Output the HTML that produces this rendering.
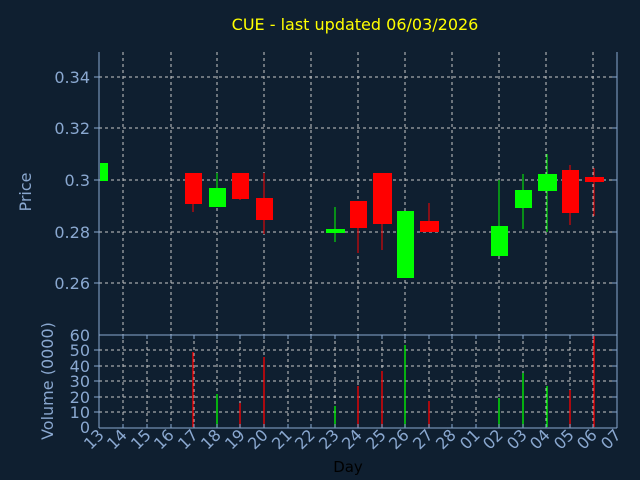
<!DOCTYPE html>
<html><head><style>body{margin:0;background:#0f1f30}svg{display:block}</style></head><body>
<svg width="640" height="480" xmlns="http://www.w3.org/2000/svg" font-family="DejaVu Sans, Liberation Sans, sans-serif">
<rect width="640" height="480" fill="#0f1f30"/>
<text x="355" y="30" fill="#ffff00" font-size="16" text-anchor="middle">CUE - last updated 06/03/2026</text>
<g stroke="#c8c8c8" stroke-width="1" stroke-dasharray="3,3">
<line x1="99" x2="617" y1="77" y2="77"/><line x1="99" x2="617" y1="128" y2="128"/><line x1="99" x2="617" y1="180" y2="180"/><line x1="99" x2="617" y1="232" y2="232"/><line x1="99" x2="617" y1="283" y2="283"/>
<line x1="99" x2="617" y1="350" y2="350"/><line x1="99" x2="617" y1="366" y2="366"/><line x1="99" x2="617" y1="381" y2="381"/><line x1="99" x2="617" y1="397" y2="397"/><line x1="99" x2="617" y1="412" y2="412"/>
<line x1="123" x2="123" y1="52" y2="427"/><line x1="147" x2="147" y1="335" y2="427"/><line x1="171" x2="171" y1="52" y2="427"/><line x1="194" x2="194" y1="335" y2="427"/><line x1="217" x2="217" y1="52" y2="427"/><line x1="240" x2="240" y1="335" y2="427"/><line x1="264" x2="264" y1="52" y2="427"/><line x1="288" x2="288" y1="335" y2="427"/><line x1="311" x2="311" y1="52" y2="427"/><line x1="335" x2="335" y1="335" y2="427"/><line x1="358" x2="358" y1="52" y2="427"/><line x1="382" x2="382" y1="335" y2="427"/><line x1="405" x2="405" y1="52" y2="427"/><line x1="429" x2="429" y1="335" y2="427"/><line x1="452" x2="452" y1="52" y2="427"/><line x1="476" x2="476" y1="335" y2="427"/><line x1="499" x2="499" y1="52" y2="427"/><line x1="523" x2="523" y1="335" y2="427"/><line x1="546" x2="546" y1="52" y2="427"/><line x1="570" x2="570" y1="335" y2="427"/><line x1="593" x2="593" y1="52" y2="427"/>
</g>
<g stroke-width="1">
<rect x="100" y="163" width="8" height="18" fill="#00ff00"/>
<line x1="193" x2="193" y1="173" y2="212" stroke="#ff0000"/><rect x="185" y="173" width="17" height="31" fill="#ff0000"/>
<line x1="217" x2="217" y1="173" y2="207" stroke="#00ff00"/><rect x="209" y="188" width="17" height="19" fill="#00ff00"/>
<line x1="240" x2="240" y1="173" y2="200" stroke="#ff0000"/><rect x="232" y="173" width="17" height="26" fill="#ff0000"/>
<line x1="264" x2="264" y1="173" y2="234" stroke="#ff0000"/><rect x="256" y="198" width="17" height="22" fill="#ff0000"/>
<line x1="335" x2="335" y1="207" y2="242" stroke="#00ff00"/><rect x="326" y="229" width="19" height="4" fill="#00ff00"/>
<line x1="358" x2="358" y1="201" y2="253" stroke="#ff0000"/><rect x="350" y="201" width="17" height="27" fill="#ff0000"/>
<line x1="382" x2="382" y1="173" y2="250" stroke="#ff0000"/><rect x="373" y="173" width="19" height="51" fill="#ff0000"/>
<rect x="397" y="211" width="17" height="67" fill="#00ff00"/>
<line x1="429" x2="429" y1="203" y2="232" stroke="#ff0000"/><rect x="420" y="221" width="19" height="11" fill="#ff0000"/>
<line x1="499" x2="499" y1="180" y2="256" stroke="#00ff00"/><rect x="491" y="226" width="17" height="30" fill="#00ff00"/>
<line x1="523" x2="523" y1="174" y2="229" stroke="#00ff00"/><rect x="515" y="190" width="17" height="18" fill="#00ff00"/>
<line x1="547" x2="547" y1="154" y2="232" stroke="#00ff00"/><rect x="538" y="174" width="19" height="17" fill="#00ff00"/>
<line x1="570" x2="570" y1="165" y2="225" stroke="#ff0000"/><rect x="562" y="170" width="17" height="43" fill="#ff0000"/>
<line x1="594" x2="594" y1="168" y2="216" stroke="#ff0000"/><rect x="585" y="177" width="19" height="5" fill="#ff0000"/>
</g>
<g stroke-width="1.3">
<line x1="193" x2="193" y1="352" y2="427" stroke="#ff0000"/>
<line x1="217" x2="217" y1="394" y2="427" stroke="#00ff00"/>
<line x1="240" x2="240" y1="403" y2="427" stroke="#ff0000"/>
<line x1="264" x2="264" y1="357" y2="427" stroke="#ff0000"/>
<line x1="335" x2="335" y1="406" y2="427" stroke="#00ff00"/>
<line x1="358" x2="358" y1="386" y2="427" stroke="#ff0000"/>
<line x1="382" x2="382" y1="371" y2="427" stroke="#ff0000"/>
<line x1="405" x2="405" y1="345" y2="427" stroke="#00ff00"/>
<line x1="429" x2="429" y1="401" y2="427" stroke="#ff0000"/>
<line x1="499" x2="499" y1="398" y2="427" stroke="#00ff00"/>
<line x1="523" x2="523" y1="373" y2="427" stroke="#00ff00"/>
<line x1="547" x2="547" y1="386" y2="427" stroke="#00ff00"/>
<line x1="570" x2="570" y1="390" y2="427" stroke="#ff0000"/>
<line x1="594" x2="594" y1="336" y2="427" stroke="#ff0000"/>
</g>
<g stroke="#8aa8d0" fill="none" stroke-width="1">
<line x1="99" y1="52" x2="99" y2="428"/><line x1="617" y1="52" x2="617" y2="428"/>
<line x1="99" y1="335" x2="617" y2="335"/><line x1="99" y1="428" x2="617" y2="428"/>
<path d="M94 77h5M94 128h5M94 180h5M94 232h5M94 283h5M612 77h5M612 128h5M612 180h5M612 232h5M612 283h5"/>
<path d="M94 350h5M94 366h5M94 381h5M94 397h5M94 412h5M612 350h5M612 366h5M612 381h5M612 397h5M612 412h5"/>
<path d="M123 428v-4M147 428v-4M171 428v-4M194 428v-4M217 428v-4M240 428v-4M264 428v-4M288 428v-4M311 428v-4M335 428v-4M358 428v-4M382 428v-4M405 428v-4M429 428v-4M452 428v-4M476 428v-4M499 428v-4M523 428v-4M546 428v-4M570 428v-4M593 428v-4M123 335v4M147 335v4M171 335v4M194 335v4M217 335v4M240 335v4M264 335v4M288 335v4M311 335v4M335 335v4M358 335v4M382 335v4M405 335v4M429 335v4M452 335v4M476 335v4M499 335v4M523 335v4M546 335v4M570 335v4M593 335v4"/>
</g>
<g fill="#8aa8d0" font-size="16" text-anchor="end">
<text x="90" y="83">0.34</text><text x="90" y="134">0.32</text><text x="90" y="186">0.3</text><text x="90" y="238">0.28</text><text x="90" y="289">0.26</text>
<text x="90" y="341">60</text><text x="90" y="356">50</text><text x="90" y="372">40</text><text x="90" y="387">30</text><text x="90" y="403">20</text><text x="90" y="418">10</text><text x="90" y="433">0</text>
</g>
<text transform="translate(31,192) rotate(-90)" fill="#8aa8d0" font-size="16" text-anchor="middle">Price</text>
<text transform="translate(53,381) rotate(-90)" fill="#8aa8d0" font-size="16" text-anchor="middle">Volume (0000)</text>
<text x="348" y="472" fill="#000" font-size="15" text-anchor="middle">Day</text>
<g fill="#8aa8d0" font-size="16" text-anchor="end">
<text transform="translate(105,436) rotate(-45)">13</text>
<text transform="translate(128,436) rotate(-45)">14</text>
<text transform="translate(152,436) rotate(-45)">15</text>
<text transform="translate(175,436) rotate(-45)">16</text>
<text transform="translate(199,436) rotate(-45)">17</text>
<text transform="translate(222,436) rotate(-45)">18</text>
<text transform="translate(246,436) rotate(-45)">19</text>
<text transform="translate(269,436) rotate(-45)">20</text>
<text transform="translate(293,436) rotate(-45)">21</text>
<text transform="translate(316,436) rotate(-45)">22</text>
<text transform="translate(340,436) rotate(-45)">23</text>
<text transform="translate(363,436) rotate(-45)">24</text>
<text transform="translate(387,436) rotate(-45)">25</text>
<text transform="translate(410,436) rotate(-45)">26</text>
<text transform="translate(434,436) rotate(-45)">27</text>
<text transform="translate(457,436) rotate(-45)">28</text>
<text transform="translate(481,436) rotate(-45)">01</text>
<text transform="translate(504,436) rotate(-45)">02</text>
<text transform="translate(528,436) rotate(-45)">03</text>
<text transform="translate(551,436) rotate(-45)">04</text>
<text transform="translate(575,436) rotate(-45)">05</text>
<text transform="translate(598,436) rotate(-45)">06</text>
<text transform="translate(622,436) rotate(-45)">07</text>
</g>
</svg>
</body></html>
